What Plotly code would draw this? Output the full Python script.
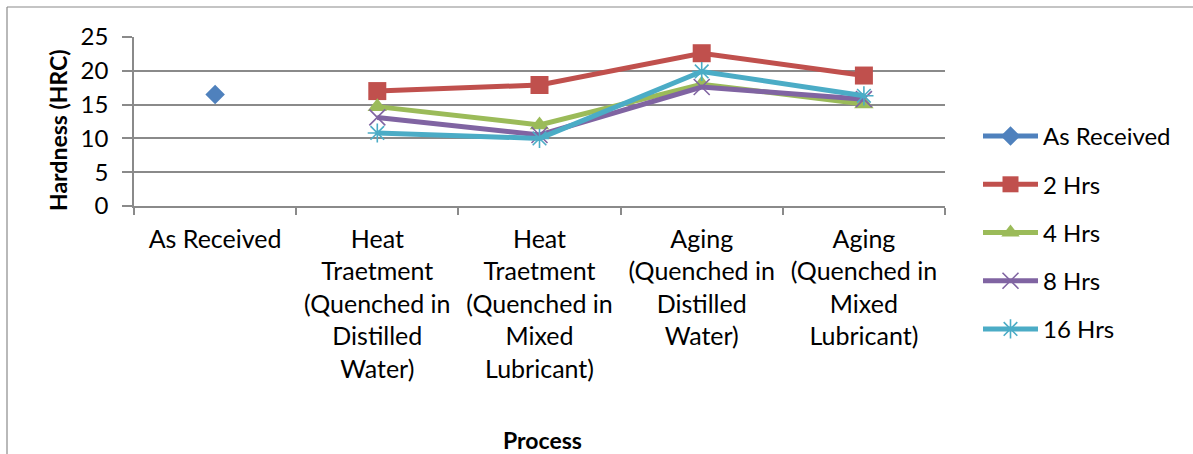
import plotly.graph_objects as go

CATEGORIES = [
    "As Received",
    "Heat<br>Traetment<br>(Quenched in<br>Distilled<br>Water)",
    "Heat<br>Traetment<br>(Quenched in<br>Mixed<br>Lubricant)",
    "Aging<br>(Quenched in<br>Distilled<br>Water)",
    "Aging<br>(Quenched in<br>Mixed<br>Lubricant)",
]
SERIES_NAMES = ["As Received", "2 Hrs", "4 Hrs", "8 Hrs", "16 Hrs"]
AS_RECEIVED = [16.5, None, None, None, None]
HRS_2 = [None, 17.0, 17.9, 22.6, 19.3]
HRS_4 = [None, 14.7, 12.0, 18.0, 15.1]
HRS_8 = [None, 13.1, 10.5, 17.6, 15.8]
HRS_16 = [None, 10.8, 10.0, 19.9, 16.3]
Y_TICKS = [0, 5, 10, 15, 20, 25]

W, H = 1193, 454
L, R, T, B = 134, 945, 37, 206  # plot area in page pixels


def px(x):
    return (x - L) / (R - L)


def py(y):
    return (B - y) / (B - T)


FONT = "Lato, 'Open Sans', sans-serif"
GRID = "#8a8a8a"

styles = [
    dict(color="#4F81BD", symbol="diamond", size=15, lw=0),
    dict(color="#C0504D", symbol="square", size=18, lw=0),
    dict(color="#9BBB59", symbol="triangle-up", size=17, lw=0),
    dict(color="#8064A2", symbol="x-thin-open", size=16, lw=1.6),
    dict(color="#4BACC6", symbol="asterisk-open", size=16, lw=1.6),
]
series = [AS_RECEIVED, HRS_2, HRS_4, HRS_8, HRS_16]

fig = go.Figure()
for name, vals, st in zip(SERIES_NAMES, series, styles):
    marker = dict(symbol=st["symbol"], size=st["size"], color=st["color"])
    if st["lw"]:
        marker["line"] = dict(color=st["color"], width=st["lw"])
    fig.add_trace(go.Scatter(
        x=CATEGORIES, y=vals, name=name, mode="lines+markers",
        line=dict(color=st["color"], width=5),
        marker=marker, legendgroup=name, connectgaps=False,
    ))

fig.update_layout(
    width=W, height=H,
    margin=dict(l=L, r=W - R, t=T, b=H - B, pad=0),
    paper_bgcolor="white", plot_bgcolor="white",
    font=dict(family=FONT, size=24, color="black"),
    showlegend=True,
    legend=dict(
        x=px(978), y=py(114), xanchor="left", yanchor="top",
        font=dict(family=FONT, size=24, color="black"),
        itemwidth=55, tracegroupgap=14, bgcolor="rgba(0,0,0,0)",
        maxheight=400,
    ),
    xaxis=dict(
        type="category", categoryorder="array", categoryarray=CATEGORIES,
        range=[-0.5, 4.5], tickson="boundaries",
        showline=True, linecolor=GRID, linewidth=1.5,
        ticks="outside", ticklen=7, tickcolor=GRID, tickwidth=1.5,
        showgrid=False, zeroline=False,
        tickfont=dict(family=FONT, size=25, color="black"),
        tickangle=0, ticklabelstandoff=10,
    ),
    yaxis=dict(
        range=[0, 25], tickvals=Y_TICKS, ticktext=[str(v) for v in Y_TICKS],
        showline=True, linecolor=GRID, linewidth=1.5,
        ticks="outside", ticklen=10, tickcolor=GRID, tickwidth=1.5,
        showgrid=True, gridcolor=GRID, gridwidth=1.5, zeroline=False,
        tickfont=dict(family=FONT, size=24, color="black"),
        ticklabelstandoff=9,
    ),
    annotations=[
        dict(text="<b>Hardness (HRC)</b>", x=px(58), y=py(130), xref="paper", yref="paper",
             textangle=-90, showarrow=False, xanchor="center", yanchor="middle",
             font=dict(family=FONT, size=23, color="black")),
        dict(text="<b>Process</b>", x=px(542), y=py(440), xref="paper", yref="paper",
             showarrow=False, xanchor="center", yanchor="middle",
             font=dict(family=FONT, size=23, color="black")),
    ],
    shapes=[
        dict(type="line", xref="paper", yref="paper", x0=px(7), x1=px(1300), y0=py(7), y1=py(7),
             line=dict(color=GRID, width=1.2)),
        dict(type="line", xref="paper", yref="paper", x0=px(7), x1=px(7), y0=py(7), y1=py(600),
             line=dict(color=GRID, width=1.2)),
    ],
)

fig.write_html("out.html", config={"displayModeBar": False},
               post_script="document.body.style.margin='0';")
